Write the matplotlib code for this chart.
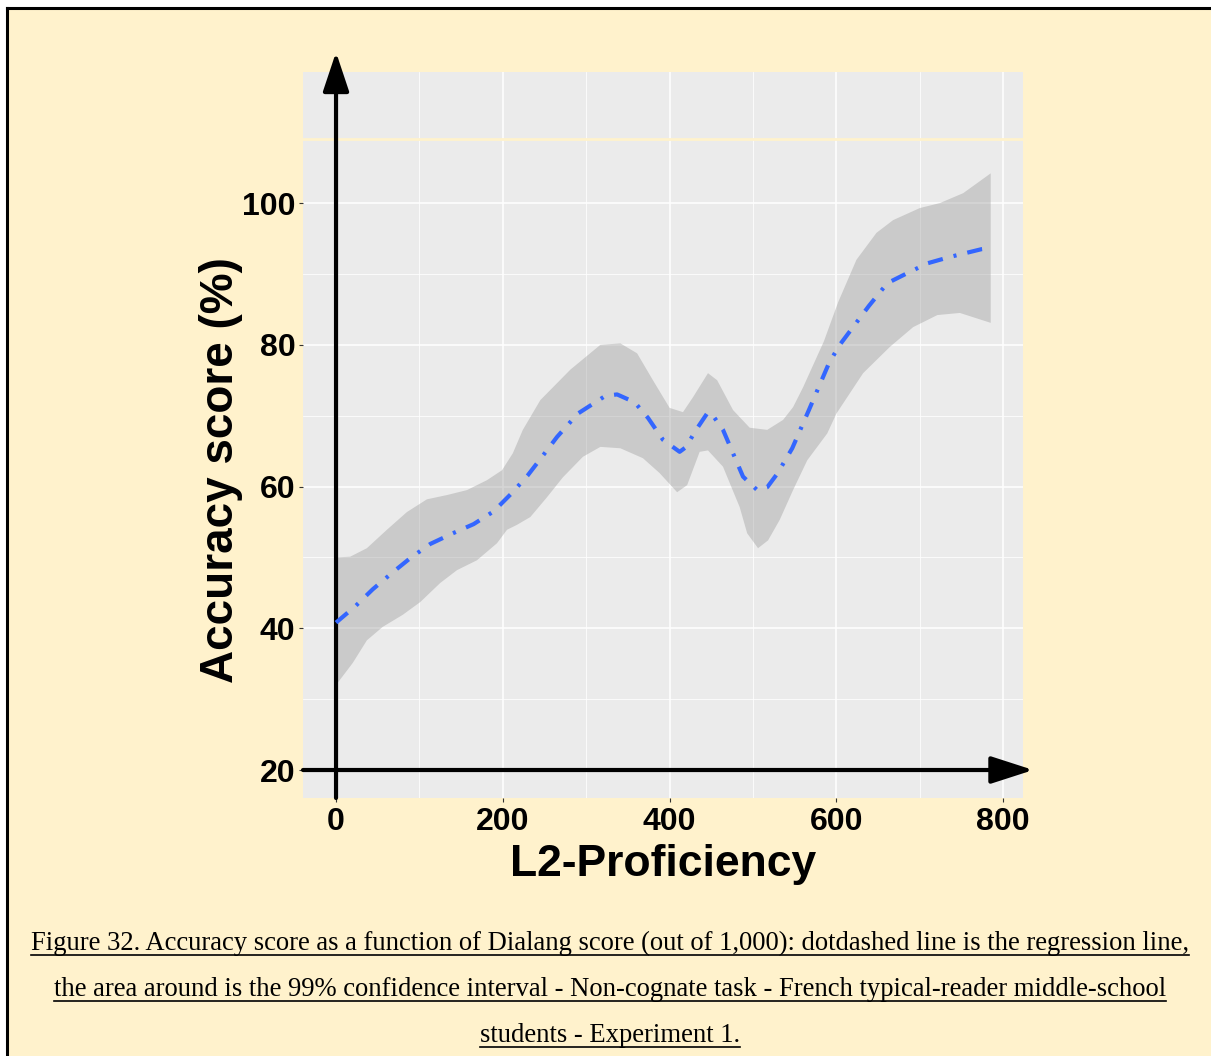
import matplotlib
matplotlib.use("Agg")
import matplotlib.pyplot as plt
from matplotlib.lines import Line2D
from matplotlib.patches import Rectangle

# ---- data ----
line_x = [0, 23, 44, 67, 89, 113, 140, 165, 189, 211, 230, 247, 265, 290, 323, 337,
          358, 374, 392, 412, 420, 430, 446, 452, 464, 476, 488, 505, 517, 529, 547,
          567, 591, 604, 639, 661, 683, 709, 736, 774, 782]
line_y = [40.8, 43.1, 45.5, 47.8, 49.9, 51.9, 53.4, 54.7, 56.5, 59.1, 61.6, 64.2, 67.0,
          70.3, 72.8, 73.0, 71.9, 69.7, 66.6, 64.9, 65.6, 67.7, 70.5, 70.0, 68.0, 64.7,
          61.4, 59.5, 59.9, 61.8, 65.4, 70.8, 77.4, 80.0, 85.5, 88.7, 90.0, 91.5, 92.4,
          93.5, 93.6]

upper_x = [0, 17, 37, 61, 85, 109, 133, 157, 181, 199, 212, 224, 245, 281, 317, 341,
           361, 380, 400, 416, 428, 446, 457, 476, 496, 517, 536, 548, 560, 585, 602,
           624, 648, 668, 700, 724, 752, 785]
upper_y = [50.0, 50.1, 51.3, 53.9, 56.4, 58.2, 58.8, 59.5, 60.9, 62.3, 64.7, 68.0, 72.2,
           76.5, 80.0, 80.2, 78.8, 75.0, 71.1, 70.5, 72.6, 76.0, 75.0, 70.8, 68.3, 68.0,
           69.4, 71.2, 74.0, 80.5, 86.0, 92.0, 95.8, 97.6, 99.3, 100.0, 101.4, 104.2]

lower_x = [0, 20, 37, 56, 80, 101, 125, 145, 169, 193, 205, 217, 233, 253, 272, 296,
           317, 341, 368, 388, 409, 421, 436, 446, 464, 484, 493, 506, 518, 532, 548,
           565, 589, 600, 632, 664, 692, 721, 748, 785]
lower_y = [32.0, 35.1, 38.3, 40.2, 41.9, 43.7, 46.4, 48.2, 49.6, 52.0, 53.9, 54.6, 55.7,
           58.5, 61.3, 64.2, 65.6, 65.4, 64.0, 61.9, 59.2, 60.2, 64.9, 65.1, 62.8, 57.1,
           53.4, 51.3, 52.4, 55.3, 59.5, 63.7, 67.5, 70.3, 76.0, 79.7, 82.5, 84.2, 84.5,
           83.1]

x_ticks = [0, 200, 400, 600, 800]
y_ticks = [20, 40, 60, 80, 100]
x_minor = [100, 300, 500, 700]
y_minor = [30, 50, 70, 90]

x_title = "L2-Proficiency"
y_title = "Accuracy score (%)"
caption = [
    "Figure 32. Accuracy score as a function of Dialang score (out of 1,000): dotdashed line is the regression line,",
    "the area around is the 99% confidence interval - Non-cognate task - French typical-reader middle-school",
    "students - Experiment 1.",
]

# ---- figure ----
W, H = 1211, 1056
DPI = 100
CREAM = "#FFF2CC"
fig = plt.figure(figsize=(W / DPI, H / DPI), dpi=DPI, facecolor="white")

# page background and border
fig.patches.append(Rectangle((6 / W, 0), 1 - 6 / W, 1 - 8 / H, transform=fig.transFigure,
                             facecolor=CREAM, edgecolor="none", zorder=-10))
fig.add_artist(Line2D([6.5 / W, 6.5 / W], [0, 1 - 7.5 / H], transform=fig.transFigure,
                      color="black", lw=2.2, solid_capstyle="projecting"))
fig.add_artist(Line2D([6.5 / W, 1], [1 - 7.5 / H, 1 - 7.5 / H], transform=fig.transFigure,
                      color="black", lw=2.2, solid_capstyle="projecting"))

ax = fig.add_axes([303 / W, 1 - 798 / H, (1023 - 303) / W, (798 - 72) / H])
ax.set_facecolor("#EBEBEB")
ax.set_xlim(-39.6, 823.7)
ax.set_ylim(16.05, 118.5)
for s in ax.spines.values():
    s.set_visible(False)

ax.set_xticks(x_ticks)
ax.set_yticks(y_ticks)
ax.set_xticks(x_minor, minor=True)
ax.set_yticks(y_minor, minor=True)
ax.grid(which="major", color="white", lw=1.1)
ax.grid(which="minor", color="white", lw=0.55)
ax.set_axisbelow(True)
ax.tick_params(which="minor", length=0)
ax.tick_params(which="major", length=3, width=0.8, color="#333333", pad=2.5)
ax.tick_params(axis="x", pad=3.5)
tick_font = dict(family="Liberation Sans", weight="bold", size=23)
ax.set_xticklabels([str(v) for v in x_ticks], **tick_font, color="black")
ax.set_yticklabels([str(v) for v in y_ticks], **tick_font, color="black")

# cream line across the upper part of the panel (as in the reference)
ax.axhline(109.0, color=CREAM, lw=2.0, zorder=1.5)

# confidence band
band_x = upper_x + lower_x[::-1]
band_y = upper_y + lower_y[::-1]
ax.fill(band_x, band_y, facecolor="#999999", alpha=0.4, edgecolor="none", zorder=2)

# axis arrows
ax.annotate("", xy=(0, 121.3), xytext=(0, 16.05),
            arrowprops=dict(arrowstyle="-|>,head_length=1.2,head_width=0.4", lw=3.0,
                            color="black", shrinkA=0, shrinkB=0, mutation_scale=20),
            annotation_clip=False, zorder=3)
ax.annotate("", xy=(836, 20), xytext=(-39.6, 20),
            arrowprops=dict(arrowstyle="-|>,head_length=1.3,head_width=0.42", lw=3.0,
                            color="black", shrinkA=0, shrinkB=0, mutation_scale=20),
            annotation_clip=False, zorder=3)

# regression line
plt.rcParams["lines.scale_dashes"] = False
ax.plot(line_x, line_y, color="#3366FF", lw=3.0, dashes=(11, 8, 2.2, 8),
        dash_capstyle="butt", zorder=4)

# axis titles
title_font = dict(family="Liberation Sans", weight="bold", color="black")
fig.text(663 / W, 1 - 876 / H, x_title, ha="center", va="baseline", size=32, **title_font)
fig.text(233 / W, 1 - 470 / H, y_title, ha="center", va="baseline", rotation=90,
         rotation_mode="anchor", size=33, **title_font)

# caption with underline
cap_font = dict(family="Liberation Serif", size=19.2, color="black")
baselines = [950, 996, 1042]
texts = []
for txt, b in zip(caption, baselines):
    texts.append(fig.text(610 / W, 1 - b / H, txt, ha="center", va="baseline", **cap_font))

fig.canvas.draw()
r = fig.canvas.get_renderer()
for t, b in zip(texts, baselines):
    bb = t.get_window_extent(r)
    yy = 1 - (b + 5) / H
    fig.add_artist(Line2D([bb.x0 / W, bb.x1 / W], [yy, yy], transform=fig.transFigure,
                          color="black", lw=1.2))

fig.savefig("out.png", dpi=DPI, facecolor=fig.get_facecolor())
